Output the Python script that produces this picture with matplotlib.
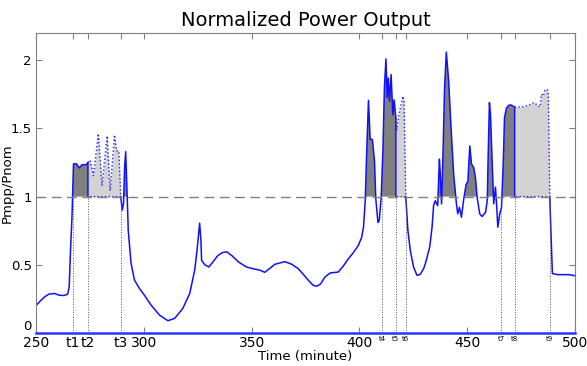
import numpy as np
import matplotlib
matplotlib.use("Agg")
import matplotlib.pyplot as plt

# measured output (clipped at 1 while curtailed)
time_min = [250, 252, 254, 256, 258.5, 260.8, 263, 264.7, 265.4, 266.0, 266.7, 267.4,
            268.8, 270.1, 271.3, 273.2, 274.1, 274.1, 289.3, 290.0, 290.6, 291.1, 291.6,
            292.3, 292.8, 294.1, 295.7, 298.0, 300.3, 303.4, 307.3, 311.2, 314.3, 318.1,
            321.3, 323.6, 324.7, 325.9, 326.5, 326.8, 328.3, 330.2, 332.5, 334.4, 336.5,
            338.5, 341, 344, 347.6, 351, 354, 356.1, 358.5, 360.8, 365.4, 368.5, 371.6,
            374, 376.3, 378.5, 380.2, 382, 384, 386.4, 390.2, 392.5, 394.9, 397, 399.5,
            401, 401.9, 402.7, 403.4, 404.2, 405.0, 406.0, 407.0, 407.6, 408.6, 409.2,
            410.1, 410.9, 411.6, 412.3, 412.9, 413.4, 414.0, 414.7, 415.5, 416.1, 416.9,
            416.9, 421.5, 422.5, 423.6, 425.1, 426.7, 428.2, 429.8, 430.6, 432.6, 433.7,
            434.4, 435.2, 436.3, 437.1, 437.5, 438.1, 438.8, 439.5, 440.3, 441.4, 442.5,
            443.7, 445.0, 445.6, 446.4, 447.3, 448.4, 449.5, 450.3, 451.2, 452.0, 453.0,
            453.8, 454.6, 455.8, 456.9, 458.5, 459.3, 459.7, 460.3, 460.8, 461.6, 462.3,
            463.1, 463.6, 464.2, 465.1, 465.9, 466.7, 467.3, 468.2, 469.3, 470.4, 472.0,
            472.0, 488.3, 488.7, 489.5, 491.8, 497, 500]
pout = [0.20, 0.235, 0.265, 0.285, 0.29, 0.277, 0.275, 0.285, 0.34, 0.6, 0.85, 1.24,
        1.24, 1.21, 1.234, 1.234, 1.25, 1.0, 1.0, 0.90, 0.95, 1.21, 1.33,
        1.0, 0.75, 0.51, 0.387, 0.326, 0.277, 0.204, 0.131, 0.09, 0.107, 0.18,
        0.29, 0.46, 0.606, 0.805, 0.68, 0.533, 0.5, 0.484, 0.53, 0.569, 0.59,
        0.595, 0.565, 0.52, 0.484, 0.47, 0.46, 0.445, 0.475, 0.504, 0.523, 0.505, 0.472,
        0.43, 0.387, 0.35, 0.343, 0.36, 0.41, 0.44, 0.447, 0.49, 0.545, 0.585, 0.642,
        0.7, 0.776, 0.97, 1.336, 1.706, 1.42, 1.42, 1.263, 0.983, 0.81, 0.825,
        0.995, 1.336, 1.80, 2.01, 1.725, 1.87, 1.70, 1.895, 1.60, 1.71, 1.58,
        1.0, 1.0, 0.75, 0.606, 0.484, 0.423, 0.43, 0.472, 0.509, 0.63, 0.776,
        0.934, 0.97, 0.934, 1.275, 1.166, 0.947, 1.336, 1.80, 2.06, 1.847, 1.506,
        1.166, 0.947, 0.874, 0.922, 0.849, 0.983, 1.09, 1.11, 1.372, 1.239, 1.214,
        1.14, 0.995, 0.874, 0.854, 0.885, 0.97, 1.287, 1.69, 1.60, 1.24, 0.947,
        1.07, 0.947, 0.776, 0.874, 0.92, 1.24, 1.58, 1.65, 1.67, 1.672, 1.657,
        1.0, 1.0, 0.80, 0.436, 0.428, 0.428, 0.42]

# available power during curtailment (dotted)
cur1_t = [274.1, 275.1, 276.7, 278.9, 280.6, 283.0, 284.4, 286.4, 287.4, 288.4, 289.3]
cur1_p = [1.25, 1.268, 1.153, 1.462, 1.08, 1.445, 1.044, 1.453, 1.336, 1.336, 1.0]
cur2_t = [416.9, 417.3, 418.5, 420.2, 420.7, 421.5]
cur2_p = [1.58, 1.49, 1.615, 1.737, 1.70, 1.0]
cur3_t = [472.0, 474.0, 476.3, 479.4, 480.9, 482.5, 483.7, 484.4, 485.3, 486.0, 487.1, 487.6, 488.3]
cur3_p = [1.657, 1.657, 1.66, 1.677, 1.69, 1.672, 1.657, 1.75, 1.737, 1.78, 1.786, 1.75, 1.0]

t_marks = [267.0, 274.1, 289.3, 410.7, 416.9, 421.5, 465.9, 472.0, 488.3]
t_names = ["t1", "t2", "t3", "t4", "t5", "t6", "t7", "t8", "t9"]
num_ticks = [250, 300, 350, 400, 450, 500]

fig = plt.figure(figsize=(5.87, 3.66), dpi=100)
ax = fig.add_axes([0.0613, 0.0902, 0.9183, 0.8196])

t = np.array(time_min)
p = np.array(pout)
ax.fill_between(t, p, 1, where=p >= 1, interpolate=True, color="#808080", lw=0)
for ct, cp in [(cur1_t, cur1_p), (cur2_t, cur2_p), (cur3_t, cur3_p)]:
    ax.fill_between(ct, cp, 1, color="#d3d3d3", lw=0)
    ax.plot(ct + [ct[0]], cp + [1.0], ":", color="#2020ff", lw=1.0)

# solid line, skipping the flat stretch at 1 during curtailment
cuts = [i + 1 for i in range(len(t) - 1)
        if p[i] == 1.0 and p[i + 1] == 1.0 and t[i + 1] - t[i] > 2]
start = 0
for c in cuts + [len(t)]:
    ax.plot(t[start:c], p[start:c], color="#1010ff", lw=1.1)
    start = c

ax.axhline(1, color="#808080", lw=1.0, dashes=(7, 4))
for tm in t_marks:
    ax.plot([tm, tm], [0, 1], ":", color="#555555", lw=0.7)

ax.set_xlim(250, 500)
ax.set_ylim(0, 2.2)
ax.set_yticks([0, 0.5, 1, 1.5, 2])
ax.set_yticklabels(["0", "0.5", "1", "1.5", "2"])
ax.get_yticklabels()[0].set_va("bottom")

ticks = num_ticks + t_marks
labels = [str(v) for v in num_ticks] + t_names
ax.set_xticks(ticks)
ax.set_xticklabels(labels)
for lab, tk, pos in zip(ax.get_xticklabels(), ax.xaxis.get_major_ticks(), ticks):
    if pos not in num_ticks:
        tk.tick1line.set_visible(False)
        tk.tick2line.set_visible(False)
    if lab.get_text() in t_names[3:]:
        lab.set_fontsize(5)
    else:
        lab.set_fontsize(10)

ax.tick_params(direction="in", top=True, right=True, color="#808080", length=4)
ax.tick_params(axis="y", labelsize=9.5, pad=3)
ax.tick_params(axis="x", pad=2)
for s in ["top", "left", "right"]:
    ax.spines[s].set_color("#808080")
ax.spines["bottom"].set_color("#3030ff")
ax.spines["bottom"].set_linewidth(1.8)

ax.set_title("Normalized Power Output", fontsize=14, pad=5)
ax.set_xlabel("Time (minute)", fontsize=9.5, labelpad=0)
ax.set_ylabel("Pmpp/Pnom", fontsize=9.5)
ax.yaxis.set_label_coords(-0.042, 0.5)

fig.savefig("out.png", dpi=100)
